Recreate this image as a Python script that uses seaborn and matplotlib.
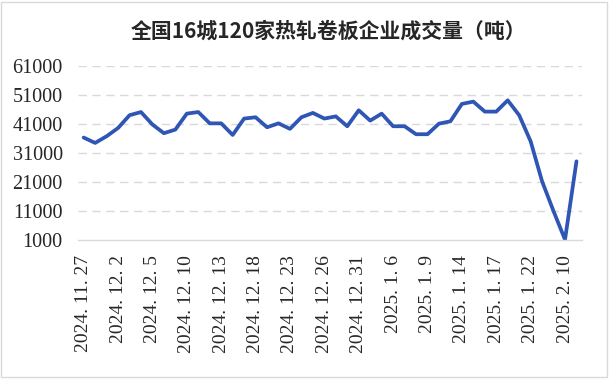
import numpy as np
import pandas as pd
import seaborn as sns
import matplotlib.pyplot as plt
from matplotlib.patches import Rectangle

# dates (trading days) and volume in tonnes
dates = [
    "2024. 11. 27", "2024. 11. 28", "2024. 11. 29", "2024. 12. 2", "2024. 12. 3",
    "2024. 12. 4", "2024. 12. 5", "2024. 12. 6", "2024. 12. 9", "2024. 12. 10",
    "2024. 12. 11", "2024. 12. 12", "2024. 12. 13", "2024. 12. 16", "2024. 12. 17",
    "2024. 12. 18", "2024. 12. 19", "2024. 12. 20", "2024. 12. 23", "2024. 12. 24",
    "2024. 12. 25", "2024. 12. 26", "2024. 12. 27", "2024. 12. 30", "2024. 12. 31",
    "2025. 1. 2", "2025. 1. 3", "2025. 1. 6", "2025. 1. 7", "2025. 1. 8",
    "2025. 1. 9", "2025. 1. 10", "2025. 1. 13", "2025. 1. 14", "2025. 1. 15",
    "2025. 1. 16", "2025. 1. 17", "2025. 1. 20", "2025. 1. 21", "2025. 1. 22",
    "2025. 1. 23", "2025. 1. 24", "2025. 2. 10", "2025. 2. 11",
]
volume = [
    36300, 34450, 36750, 39600, 44000, 45100, 40800, 37800, 39050, 44550,
    45100, 41200, 41200, 37200, 42850, 43300, 39850, 41200, 39300, 43300,
    44800, 42850, 43600, 40200, 45700, 42150, 44550, 40200, 40200, 37450,
    37450, 41100, 41900, 47900, 48700, 45250, 45250, 49150, 44000, 35000,
    21200, 10900, 1100, 28100,
]
yticks = [1000, 11000, 21000, 31000, 41000, 51000, 61000]
title = "全国16城120家热轧卷板企业成交量（吨）"

df = pd.DataFrame({"idx": np.arange(len(dates)), "date": dates, "volume": volume})

sns.set_style("white")
plt.rcParams["font.family"] = ["Liberation Serif", "Noto Sans CJK SC"]

fig = plt.figure(figsize=(6.09, 3.79), dpi=100)
ax = fig.add_axes([0.128, 0.367, 0.828, 0.459])

sns.lineplot(data=df, x="idx", y="volume", ax=ax, color="#2F56B4", linewidth=2.7)

ax.set_xlim(-0.5, len(dates) - 0.5)
ax.set_ylim(1000, 61000)
ax.set_yticks(yticks)
ax.set_yticklabels([str(v) for v in yticks], fontsize=14.5)
ax.set_xticks(df["idx"][::3])
ax.set_xticklabels(df["date"][::3], rotation=90, fontsize=14, va="top", ha="center")
ax.tick_params(axis="both", length=0)
ax.tick_params(axis="y", pad=11)
ax.tick_params(axis="x", pad=11)
ax.set_xlabel("")
ax.set_ylabel("")

for y in yticks[1:]:
    ax.axhline(y, color="#D9D9D9", linewidth=1, linestyle=(0, (6, 4)), zorder=0)
for s in ["top", "right", "left"]:
    ax.spines[s].set_visible(False)
ax.spines["bottom"].set_color("#D9D9D9")
ax.spines["bottom"].set_linewidth(1)

fig.text(0.54, 0.918, title, ha="center", va="center", fontsize=15,
         fontweight="bold", family=["Noto Sans CJK SC"])

fig.patches.append(Rectangle((0.002, 0.004), 0.995, 0.992, transform=fig.transFigure,
                             fill=False, edgecolor="#D9D9D9", linewidth=1))

fig.savefig("out.png", dpi=100)
